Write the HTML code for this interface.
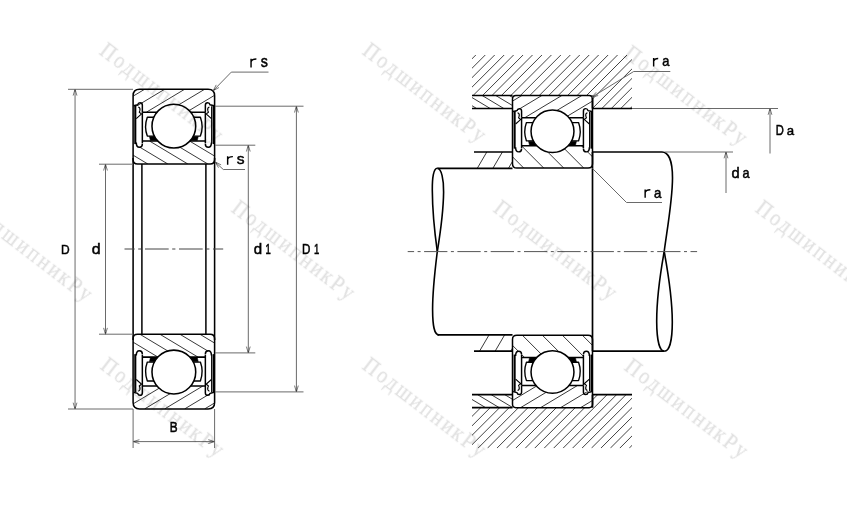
<!DOCTYPE html>
<html><head><meta charset="utf-8"><style>
html,body{margin:0;padding:0;background:#fff;}
svg{display:block;}
</style></head><body>
<svg width="847" height="508" viewBox="0 0 847 508">
<rect width="847" height="508" fill="#fff"/>
<clipPath id="coL1"><path transform="translate(133.1,89.3) scale(0.9939,0.9960)" d="M0,6.5 Q0,0 6.5,0 L75.5,0 Q82,0 82,6.5 L82,17 L73,17 L73,23 L9,23 L9,17 L0,17 Z"/></clipPath>
<clipPath id="ciL1"><path transform="translate(133.1,89.3) scale(0.9939,0.9960)" d="M0,58 L9,58 L9,52 L73,52 L73,58 L82,58 L82,70.5 Q82,75 77.5,75 L4.5,75 Q0,75 0,70.5 Z"/></clipPath>
<g clip-path="url(#coL1)">
<line x1="124.57" y1="89.3" x2="86.39" y2="112.208" stroke="#222" stroke-width="0.9"/>
<line x1="144.57" y1="89.3" x2="106.39" y2="112.208" stroke="#222" stroke-width="0.9"/>
<line x1="164.57" y1="89.3" x2="126.39" y2="112.208" stroke="#222" stroke-width="0.9"/>
<line x1="184.57" y1="89.3" x2="146.39" y2="112.208" stroke="#222" stroke-width="0.9"/>
<line x1="204.57" y1="89.3" x2="166.39" y2="112.208" stroke="#222" stroke-width="0.9"/>
<line x1="224.57" y1="89.3" x2="186.39" y2="112.208" stroke="#222" stroke-width="0.9"/>
<line x1="244.57" y1="89.3" x2="206.39" y2="112.208" stroke="#222" stroke-width="0.9"/>
<line x1="264.57" y1="89.3" x2="226.39" y2="112.208" stroke="#222" stroke-width="0.9"/>
</g>
<g clip-path="url(#ciL1)">
<line x1="89.65" y1="141.09199999999998" x2="127.83" y2="164.0" stroke="#222" stroke-width="0.9"/>
<line x1="109.65" y1="141.09199999999998" x2="147.83" y2="164.0" stroke="#222" stroke-width="0.9"/>
<line x1="129.65" y1="141.09199999999998" x2="167.83" y2="164.0" stroke="#222" stroke-width="0.9"/>
<line x1="149.65" y1="141.09199999999998" x2="187.83" y2="164.0" stroke="#222" stroke-width="0.9"/>
<line x1="169.65" y1="141.09199999999998" x2="207.83" y2="164.0" stroke="#222" stroke-width="0.9"/>
<line x1="189.65" y1="141.09199999999998" x2="227.83" y2="164.0" stroke="#222" stroke-width="0.9"/>
<line x1="209.65" y1="141.09199999999998" x2="247.83" y2="164.0" stroke="#222" stroke-width="0.9"/>
<line x1="229.65" y1="141.09199999999998" x2="267.83" y2="164.0" stroke="#222" stroke-width="0.9"/>
</g>
<g transform="translate(133.1,89.3) scale(0.9939,0.9960)" fill="none" stroke="#000" stroke-width="1.55" stroke-linejoin="round">
<path d="M0,6.5 Q0,0 6.5,0 L75.5,0 Q82,0 82,6.5 L82,70.5 Q82,75 77.5,75 L4.5,75 Q0,75 0,70.5 Z"/>
<path d="M9.5,23 L24.03,23 M57.97,23 L72.5,23"/>
<path d="M9.5,52 L24.91,52 M57.09,52 L72.5,52"/>
<g>
<path d="M41,28 L20.93,28 L14.3,28 Q10.8,37.5 14.3,47 L21.40,47" stroke-width="1.4"/>
<path d="M16.40,47.3 L21.40,47.3 L24.45,51.5 L17.40,51.5 Z" fill="#000" stroke-width="0.5"/>
</g>
<g transform="translate(82,0) scale(-1,1)">
<path d="M41,28 L20.93,28 L14.3,28 Q10.8,37.5 14.3,47 L21.40,47" stroke-width="1.4"/>
<path d="M16.40,47.3 L21.40,47.3 L24.45,51.5 L17.40,51.5 Z" fill="#000" stroke-width="0.5"/>
</g>
<circle cx="41" cy="37" r="22" fill="#fff"/>
<g>
<path d="M2.2,16.5 L2.2,55" stroke-width="2.1"/>
<path d="M9.3,23 L9.3,16 Q9.3,13.6 7,13.6 Q5,13.6 4.6,15.6 L0.5,16.6" stroke-width="1.5"/>
<path d="M9.3,23 L9.3,54.5 M3.2,53.5 Q3.2,58.3 6.3,58.3 Q9.3,58.3 9.3,55" stroke-width="1.5"/>
<path d="M5.2,17.8 Q7.6,18.5 6.8,21.5 L6.2,23 L8,24.5 M8.8,24.5 L3.2,29.5" stroke-width="1.1"/>
</g>
<g transform="translate(82,0) scale(-1,1)">
<path d="M1.0,16.5 L1.0,55" stroke-width="2.1"/>
<path d="M3,17 L3,54" stroke-width="1.1"/>
<path d="M9.3,23 L9.3,16 Q9.3,13.6 7,13.6 Q5,13.6 4.6,15.6 L0.5,16.6" stroke-width="1.5"/>
<path d="M9.3,23 L9.3,54.5 M3.2,53.5 Q3.2,58.3 6.3,58.3 Q9.3,58.3 9.3,55" stroke-width="1.5"/>
<path d="M5.2,17.8 Q7.6,18.5 6.8,21.5 L6.2,23 L8,24.5 M8.8,24.5 L3.2,29.5" stroke-width="1.1"/>
</g>
</g>
<clipPath id="coL2"><path transform="translate(133.1,408.9) scale(0.9939,-0.9960)" d="M0,6.5 Q0,0 6.5,0 L75.5,0 Q82,0 82,6.5 L82,17 L73,17 L73,23 L9,23 L9,17 L0,17 Z"/></clipPath>
<clipPath id="ciL2"><path transform="translate(133.1,408.9) scale(0.9939,-0.9960)" d="M0,58 L9,58 L9,52 L73,52 L73,58 L82,58 L82,70.5 Q82,75 77.5,75 L4.5,75 Q0,75 0,70.5 Z"/></clipPath>
<g clip-path="url(#coL2)">
<line x1="122.88" y1="385.99199999999996" x2="84.70" y2="408.9" stroke="#222" stroke-width="0.9"/>
<line x1="142.88" y1="385.99199999999996" x2="104.70" y2="408.9" stroke="#222" stroke-width="0.9"/>
<line x1="162.88" y1="385.99199999999996" x2="124.70" y2="408.9" stroke="#222" stroke-width="0.9"/>
<line x1="182.88" y1="385.99199999999996" x2="144.70" y2="408.9" stroke="#222" stroke-width="0.9"/>
<line x1="202.88" y1="385.99199999999996" x2="164.70" y2="408.9" stroke="#222" stroke-width="0.9"/>
<line x1="222.88" y1="385.99199999999996" x2="184.70" y2="408.9" stroke="#222" stroke-width="0.9"/>
<line x1="242.88" y1="385.99199999999996" x2="204.70" y2="408.9" stroke="#222" stroke-width="0.9"/>
<line x1="262.88" y1="385.99199999999996" x2="224.70" y2="408.9" stroke="#222" stroke-width="0.9"/>
</g>
<g clip-path="url(#ciL2)">
<line x1="79.80" y1="334.2" x2="117.98" y2="357.10799999999995" stroke="#222" stroke-width="0.9"/>
<line x1="99.80" y1="334.2" x2="137.98" y2="357.10799999999995" stroke="#222" stroke-width="0.9"/>
<line x1="119.80" y1="334.2" x2="157.98" y2="357.10799999999995" stroke="#222" stroke-width="0.9"/>
<line x1="139.80" y1="334.2" x2="177.98" y2="357.10799999999995" stroke="#222" stroke-width="0.9"/>
<line x1="159.80" y1="334.2" x2="197.98" y2="357.10799999999995" stroke="#222" stroke-width="0.9"/>
<line x1="179.80" y1="334.2" x2="217.98" y2="357.10799999999995" stroke="#222" stroke-width="0.9"/>
<line x1="199.80" y1="334.2" x2="237.98" y2="357.10799999999995" stroke="#222" stroke-width="0.9"/>
<line x1="219.80" y1="334.2" x2="257.98" y2="357.10799999999995" stroke="#222" stroke-width="0.9"/>
</g>
<g transform="translate(133.1,408.9) scale(0.9939,-0.9960)" fill="none" stroke="#000" stroke-width="1.55" stroke-linejoin="round">
<path d="M0,6.5 Q0,0 6.5,0 L75.5,0 Q82,0 82,6.5 L82,70.5 Q82,75 77.5,75 L4.5,75 Q0,75 0,70.5 Z"/>
<path d="M9.5,23 L24.03,23 M57.97,23 L72.5,23"/>
<path d="M9.5,52 L24.91,52 M57.09,52 L72.5,52"/>
<g>
<path d="M41,28 L20.93,28 L14.3,28 Q10.8,37.5 14.3,47 L21.40,47" stroke-width="1.4"/>
<path d="M16.40,47.3 L21.40,47.3 L24.45,51.5 L17.40,51.5 Z" fill="#000" stroke-width="0.5"/>
</g>
<g transform="translate(82,0) scale(-1,1)">
<path d="M41,28 L20.93,28 L14.3,28 Q10.8,37.5 14.3,47 L21.40,47" stroke-width="1.4"/>
<path d="M16.40,47.3 L21.40,47.3 L24.45,51.5 L17.40,51.5 Z" fill="#000" stroke-width="0.5"/>
</g>
<circle cx="41" cy="37" r="22" fill="#fff"/>
<g>
<path d="M2.2,16.5 L2.2,55" stroke-width="2.1"/>
<path d="M9.3,23 L9.3,16 Q9.3,13.6 7,13.6 Q5,13.6 4.6,15.6 L0.5,16.6" stroke-width="1.5"/>
<path d="M9.3,23 L9.3,54.5 M3.2,53.5 Q3.2,58.3 6.3,58.3 Q9.3,58.3 9.3,55" stroke-width="1.5"/>
<path d="M5.2,17.8 Q7.6,18.5 6.8,21.5 L6.2,23 L8,24.5 M8.8,24.5 L3.2,29.5" stroke-width="1.1"/>
</g>
<g transform="translate(82,0) scale(-1,1)">
<path d="M1.0,16.5 L1.0,55" stroke-width="2.1"/>
<path d="M3,17 L3,54" stroke-width="1.1"/>
<path d="M9.3,23 L9.3,16 Q9.3,13.6 7,13.6 Q5,13.6 4.6,15.6 L0.5,16.6" stroke-width="1.5"/>
<path d="M9.3,23 L9.3,54.5 M3.2,53.5 Q3.2,58.3 6.3,58.3 Q9.3,58.3 9.3,55" stroke-width="1.5"/>
<path d="M5.2,17.8 Q7.6,18.5 6.8,21.5 L6.2,23 L8,24.5 M8.8,24.5 L3.2,29.5" stroke-width="1.1"/>
</g>
</g>
<line x1="133.10" y1="158.00" x2="133.10" y2="340.00" stroke="#000" stroke-width="1.55" />
<line x1="214.60" y1="158.00" x2="214.60" y2="340.00" stroke="#000" stroke-width="1.55" />
<line x1="141.90" y1="164.00" x2="141.90" y2="334.20" stroke="#000" stroke-width="1.5" />
<line x1="205.90" y1="164.00" x2="205.90" y2="334.20" stroke="#000" stroke-width="1.5" />
<line x1="124.5" y1="249" x2="223.2" y2="249" stroke="#444" stroke-width="1" stroke-dasharray="23.7,3.5,3.2,3.6" stroke-dashoffset="13.5"/>
<line x1="68.00" y1="89.30" x2="133.00" y2="89.30" stroke="#6a6a6a" stroke-width="1" />
<line x1="68.00" y1="409.00" x2="133.00" y2="409.00" stroke="#6a6a6a" stroke-width="1" />
<line x1="75.05" y1="89.30" x2="75.05" y2="409.00" stroke="#6a6a6a" stroke-width="1" />
<path d="M76.95,95.60 L75.05,89.30 L73.15,95.60" fill="none" stroke="#6a6a6a" stroke-width="0.9" stroke-linejoin="miter"/>
<path d="M75.75,91.50 L75.05,89.30 L74.35,91.50 Z" fill="#333" stroke="none"/>
<path d="M73.15,402.70 L75.05,409.00 L76.95,402.70" fill="none" stroke="#6a6a6a" stroke-width="0.9" stroke-linejoin="miter"/>
<path d="M74.35,406.80 L75.05,409.00 L75.75,406.80 Z" fill="#333" stroke="none"/>
<line x1="99.00" y1="164.20" x2="133.00" y2="164.20" stroke="#6a6a6a" stroke-width="1" />
<line x1="99.00" y1="334.20" x2="133.00" y2="334.20" stroke="#6a6a6a" stroke-width="1" />
<line x1="105.50" y1="164.20" x2="105.50" y2="334.20" stroke="#6a6a6a" stroke-width="1" />
<path d="M107.40,170.50 L105.50,164.20 L103.60,170.50" fill="none" stroke="#6a6a6a" stroke-width="0.9" stroke-linejoin="miter"/>
<path d="M106.20,166.40 L105.50,164.20 L104.80,166.40 Z" fill="#333" stroke="none"/>
<path d="M103.60,327.90 L105.50,334.20 L107.40,327.90" fill="none" stroke="#6a6a6a" stroke-width="0.9" stroke-linejoin="miter"/>
<path d="M104.80,332.00 L105.50,334.20 L106.20,332.00 Z" fill="#333" stroke="none"/>
<line x1="215.00" y1="145.20" x2="255.30" y2="145.20" stroke="#6a6a6a" stroke-width="1" />
<line x1="215.00" y1="352.90" x2="255.30" y2="352.90" stroke="#6a6a6a" stroke-width="1" />
<line x1="248.30" y1="145.20" x2="248.30" y2="352.90" stroke="#6a6a6a" stroke-width="1" />
<path d="M250.20,151.50 L248.30,145.20 L246.40,151.50" fill="none" stroke="#6a6a6a" stroke-width="0.9" stroke-linejoin="miter"/>
<path d="M249.00,147.40 L248.30,145.20 L247.60,147.40 Z" fill="#333" stroke="none"/>
<path d="M246.40,346.60 L248.30,352.90 L250.20,346.60" fill="none" stroke="#6a6a6a" stroke-width="0.9" stroke-linejoin="miter"/>
<path d="M247.60,350.70 L248.30,352.90 L249.00,350.70 Z" fill="#333" stroke="none"/>
<line x1="215.00" y1="106.20" x2="303.50" y2="106.20" stroke="#6a6a6a" stroke-width="1" />
<line x1="215.00" y1="391.90" x2="303.50" y2="391.90" stroke="#6a6a6a" stroke-width="1" />
<line x1="296.40" y1="106.20" x2="296.40" y2="391.90" stroke="#6a6a6a" stroke-width="1" />
<path d="M298.30,112.50 L296.40,106.20 L294.50,112.50" fill="none" stroke="#6a6a6a" stroke-width="0.9" stroke-linejoin="miter"/>
<path d="M297.10,108.40 L296.40,106.20 L295.70,108.40 Z" fill="#333" stroke="none"/>
<path d="M294.50,385.60 L296.40,391.90 L298.30,385.60" fill="none" stroke="#6a6a6a" stroke-width="0.9" stroke-linejoin="miter"/>
<path d="M295.70,389.70 L296.40,391.90 L297.10,389.70 Z" fill="#333" stroke="none"/>
<line x1="133.10" y1="409.00" x2="133.10" y2="448.00" stroke="#6a6a6a" stroke-width="1" />
<line x1="214.60" y1="409.00" x2="214.60" y2="448.00" stroke="#6a6a6a" stroke-width="1" />
<line x1="133.10" y1="441.60" x2="214.60" y2="441.60" stroke="#6a6a6a" stroke-width="1" />
<path d="M139.40,439.70 L133.10,441.60 L139.40,443.50" fill="none" stroke="#6a6a6a" stroke-width="0.9" stroke-linejoin="miter"/>
<path d="M135.30,440.90 L133.10,441.60 L135.30,442.30 Z" fill="#333" stroke="none"/>
<path d="M208.30,443.50 L214.60,441.60 L208.30,439.70" fill="none" stroke="#6a6a6a" stroke-width="0.9" stroke-linejoin="miter"/>
<path d="M212.40,442.30 L214.60,441.60 L212.40,440.90 Z" fill="#333" stroke="none"/>
<line x1="213.20" y1="90.70" x2="231.30" y2="72.10" stroke="#6a6a6a" stroke-width="1" />
<line x1="231.30" y1="72.10" x2="268.50" y2="72.10" stroke="#6a6a6a" stroke-width="1" />
<path d="M216.23,84.86 L213.20,90.70 L218.96,87.51" fill="none" stroke="#6a6a6a" stroke-width="0.9" stroke-linejoin="miter"/>
<path d="M214.23,88.64 L213.20,90.70 L215.24,89.61 Z" fill="#333" stroke="none"/>
<line x1="215.20" y1="162.00" x2="223.30" y2="169.50" stroke="#6a6a6a" stroke-width="1" />
<line x1="223.30" y1="169.50" x2="245.00" y2="169.50" stroke="#6a6a6a" stroke-width="1" />
<path d="M221.11,164.89 L215.20,162.00 L218.53,167.67" fill="none" stroke="#6a6a6a" stroke-width="0.9" stroke-linejoin="miter"/>
<path d="M217.29,162.98 L215.20,162.00 L216.34,164.01 Z" fill="#333" stroke="none"/>
<clipPath id="hu"><path d="M472,55 L632,55 L632,108.5 L592.5,108.5 L592.5,95.5 L472,95.5 Z"/></clipPath>
<clipPath id="hl"><path d="M472,448.2 L632,448.2 L632,394.7 L592.5,394.7 L592.5,407.7 L472,407.7 Z"/></clipPath>
<g clip-path="url(#hu)">
<line x1="466.35" y1="55" x2="412.85" y2="108.5" stroke="#222" stroke-width="0.85"/>
<line x1="475.80" y1="55" x2="422.30" y2="108.5" stroke="#222" stroke-width="0.85"/>
<line x1="485.25" y1="55" x2="431.75" y2="108.5" stroke="#222" stroke-width="0.85"/>
<line x1="494.70" y1="55" x2="441.20" y2="108.5" stroke="#222" stroke-width="0.85"/>
<line x1="504.15" y1="55" x2="450.65" y2="108.5" stroke="#222" stroke-width="0.85"/>
<line x1="513.60" y1="55" x2="460.10" y2="108.5" stroke="#222" stroke-width="0.85"/>
<line x1="523.05" y1="55" x2="469.55" y2="108.5" stroke="#222" stroke-width="0.85"/>
<line x1="532.50" y1="55" x2="479.00" y2="108.5" stroke="#222" stroke-width="0.85"/>
<line x1="541.95" y1="55" x2="488.45" y2="108.5" stroke="#222" stroke-width="0.85"/>
<line x1="551.40" y1="55" x2="497.90" y2="108.5" stroke="#222" stroke-width="0.85"/>
<line x1="560.85" y1="55" x2="507.35" y2="108.5" stroke="#222" stroke-width="0.85"/>
<line x1="570.30" y1="55" x2="516.80" y2="108.5" stroke="#222" stroke-width="0.85"/>
<line x1="579.75" y1="55" x2="526.25" y2="108.5" stroke="#222" stroke-width="0.85"/>
<line x1="589.20" y1="55" x2="535.70" y2="108.5" stroke="#222" stroke-width="0.85"/>
<line x1="598.65" y1="55" x2="545.15" y2="108.5" stroke="#222" stroke-width="0.85"/>
<line x1="608.10" y1="55" x2="554.60" y2="108.5" stroke="#222" stroke-width="0.85"/>
<line x1="617.55" y1="55" x2="564.05" y2="108.5" stroke="#222" stroke-width="0.85"/>
<line x1="627.00" y1="55" x2="573.50" y2="108.5" stroke="#222" stroke-width="0.85"/>
<line x1="636.45" y1="55" x2="582.95" y2="108.5" stroke="#222" stroke-width="0.85"/>
<line x1="645.90" y1="55" x2="592.40" y2="108.5" stroke="#222" stroke-width="0.85"/>
<line x1="655.35" y1="55" x2="601.85" y2="108.5" stroke="#222" stroke-width="0.85"/>
<line x1="664.80" y1="55" x2="611.30" y2="108.5" stroke="#222" stroke-width="0.85"/>
<line x1="674.25" y1="55" x2="620.75" y2="108.5" stroke="#222" stroke-width="0.85"/>
<line x1="683.70" y1="55" x2="630.20" y2="108.5" stroke="#222" stroke-width="0.85"/>
<line x1="693.15" y1="55" x2="639.65" y2="108.5" stroke="#222" stroke-width="0.85"/>
</g>
<g clip-path="url(#hl)">
<line x1="465.35" y1="394.7" x2="411.85" y2="448.2" stroke="#222" stroke-width="0.85"/>
<line x1="474.80" y1="394.7" x2="421.30" y2="448.2" stroke="#222" stroke-width="0.85"/>
<line x1="484.25" y1="394.7" x2="430.75" y2="448.2" stroke="#222" stroke-width="0.85"/>
<line x1="493.70" y1="394.7" x2="440.20" y2="448.2" stroke="#222" stroke-width="0.85"/>
<line x1="503.15" y1="394.7" x2="449.65" y2="448.2" stroke="#222" stroke-width="0.85"/>
<line x1="512.60" y1="394.7" x2="459.10" y2="448.2" stroke="#222" stroke-width="0.85"/>
<line x1="522.05" y1="394.7" x2="468.55" y2="448.2" stroke="#222" stroke-width="0.85"/>
<line x1="531.50" y1="394.7" x2="478.00" y2="448.2" stroke="#222" stroke-width="0.85"/>
<line x1="540.95" y1="394.7" x2="487.45" y2="448.2" stroke="#222" stroke-width="0.85"/>
<line x1="550.40" y1="394.7" x2="496.90" y2="448.2" stroke="#222" stroke-width="0.85"/>
<line x1="559.85" y1="394.7" x2="506.35" y2="448.2" stroke="#222" stroke-width="0.85"/>
<line x1="569.30" y1="394.7" x2="515.80" y2="448.2" stroke="#222" stroke-width="0.85"/>
<line x1="578.75" y1="394.7" x2="525.25" y2="448.2" stroke="#222" stroke-width="0.85"/>
<line x1="588.20" y1="394.7" x2="534.70" y2="448.2" stroke="#222" stroke-width="0.85"/>
<line x1="597.65" y1="394.7" x2="544.15" y2="448.2" stroke="#222" stroke-width="0.85"/>
<line x1="607.10" y1="394.7" x2="553.60" y2="448.2" stroke="#222" stroke-width="0.85"/>
<line x1="616.55" y1="394.7" x2="563.05" y2="448.2" stroke="#222" stroke-width="0.85"/>
<line x1="626.00" y1="394.7" x2="572.50" y2="448.2" stroke="#222" stroke-width="0.85"/>
<line x1="635.45" y1="394.7" x2="581.95" y2="448.2" stroke="#222" stroke-width="0.85"/>
<line x1="644.90" y1="394.7" x2="591.40" y2="448.2" stroke="#222" stroke-width="0.85"/>
<line x1="654.35" y1="394.7" x2="600.85" y2="448.2" stroke="#222" stroke-width="0.85"/>
<line x1="663.80" y1="394.7" x2="610.30" y2="448.2" stroke="#222" stroke-width="0.85"/>
<line x1="673.25" y1="394.7" x2="619.75" y2="448.2" stroke="#222" stroke-width="0.85"/>
<line x1="682.70" y1="394.7" x2="629.20" y2="448.2" stroke="#222" stroke-width="0.85"/>
<line x1="692.15" y1="394.7" x2="638.65" y2="448.2" stroke="#222" stroke-width="0.85"/>
</g>
<clipPath id="su"><rect x="472" y="95.5" width="40.5" height="13"/></clipPath>
<clipPath id="sl"><rect x="472" y="394.7" width="40.5" height="13"/></clipPath>
<g clip-path="url(#su)">
<line x1="441.37" y1="95.5" x2="463.03" y2="108.5" stroke="#222" stroke-width="0.9"/>
<line x1="454.97" y1="95.5" x2="476.63" y2="108.5" stroke="#222" stroke-width="0.9"/>
<line x1="468.57" y1="95.5" x2="490.23" y2="108.5" stroke="#222" stroke-width="0.9"/>
<line x1="482.17" y1="95.5" x2="503.83" y2="108.5" stroke="#222" stroke-width="0.9"/>
<line x1="495.77" y1="95.5" x2="517.43" y2="108.5" stroke="#222" stroke-width="0.9"/>
<line x1="509.37" y1="95.5" x2="531.03" y2="108.5" stroke="#222" stroke-width="0.9"/>
<line x1="522.97" y1="95.5" x2="544.63" y2="108.5" stroke="#222" stroke-width="0.9"/>
</g>
<g clip-path="url(#sl)">
<line x1="436.83" y1="394.7" x2="458.50" y2="407.7" stroke="#222" stroke-width="0.9"/>
<line x1="450.43" y1="394.7" x2="472.10" y2="407.7" stroke="#222" stroke-width="0.9"/>
<line x1="464.03" y1="394.7" x2="485.70" y2="407.7" stroke="#222" stroke-width="0.9"/>
<line x1="477.63" y1="394.7" x2="499.30" y2="407.7" stroke="#222" stroke-width="0.9"/>
<line x1="491.23" y1="394.7" x2="512.90" y2="407.7" stroke="#222" stroke-width="0.9"/>
<line x1="504.83" y1="394.7" x2="526.50" y2="407.7" stroke="#222" stroke-width="0.9"/>
<line x1="518.43" y1="394.7" x2="540.10" y2="407.7" stroke="#222" stroke-width="0.9"/>
</g>
<clipPath id="bu"><rect x="474" y="152" width="38.5" height="16.3"/></clipPath>
<clipPath id="bl"><rect x="474" y="334.9" width="38.5" height="16.3"/></clipPath>
<g clip-path="url(#bu)">
<line x1="471.21" y1="152" x2="461.68" y2="168.3" stroke="#222" stroke-width="0.9"/>
<line x1="486.81" y1="152" x2="477.28" y2="168.3" stroke="#222" stroke-width="0.9"/>
<line x1="502.41" y1="152" x2="492.88" y2="168.3" stroke="#222" stroke-width="0.9"/>
<line x1="518.01" y1="152" x2="508.48" y2="168.3" stroke="#222" stroke-width="0.9"/>
<line x1="533.61" y1="152" x2="524.08" y2="168.3" stroke="#222" stroke-width="0.9"/>
</g>
<g clip-path="url(#bl)">
<line x1="473.45" y1="334.9" x2="463.92" y2="351.2" stroke="#222" stroke-width="0.9"/>
<line x1="489.05" y1="334.9" x2="479.52" y2="351.2" stroke="#222" stroke-width="0.9"/>
<line x1="504.65" y1="334.9" x2="495.12" y2="351.2" stroke="#222" stroke-width="0.9"/>
<line x1="520.25" y1="334.9" x2="510.72" y2="351.2" stroke="#222" stroke-width="0.9"/>
<line x1="535.85" y1="334.9" x2="526.32" y2="351.2" stroke="#222" stroke-width="0.9"/>
</g>
<clipPath id="coR1"><path transform="translate(512.5,95.5) scale(0.9756,0.9667)" d="M0,3.5 Q0,0 3.5,0 L78.5,0 Q82,0 82,3.5 L82,17 L73,17 L73,23 L9,23 L9,17 L0,17 Z"/></clipPath>
<clipPath id="ciR1"><path transform="translate(512.5,95.5) scale(0.9756,0.9667)" d="M0,58 L9,58 L9,52 L73,52 L73,58 L82,58 L82,70.5 Q82,75 77.5,75 L4.5,75 Q0,75 0,70.5 Z"/></clipPath>
<g clip-path="url(#coR1)">
<line x1="501.83" y1="95.5" x2="464.78" y2="117.73333333333333" stroke="#222" stroke-width="0.9"/>
<line x1="521.83" y1="95.5" x2="484.78" y2="117.73333333333333" stroke="#222" stroke-width="0.9"/>
<line x1="541.83" y1="95.5" x2="504.78" y2="117.73333333333333" stroke="#222" stroke-width="0.9"/>
<line x1="561.83" y1="95.5" x2="524.78" y2="117.73333333333333" stroke="#222" stroke-width="0.9"/>
<line x1="581.83" y1="95.5" x2="544.78" y2="117.73333333333333" stroke="#222" stroke-width="0.9"/>
<line x1="601.83" y1="95.5" x2="564.78" y2="117.73333333333333" stroke="#222" stroke-width="0.9"/>
<line x1="621.83" y1="95.5" x2="584.78" y2="117.73333333333333" stroke="#222" stroke-width="0.9"/>
<line x1="641.83" y1="95.5" x2="604.78" y2="117.73333333333333" stroke="#222" stroke-width="0.9"/>
</g>
<g clip-path="url(#ciR1)">
<line x1="481.47" y1="145.76666666666665" x2="503.70" y2="168.0" stroke="#222" stroke-width="0.9"/>
<line x1="501.47" y1="145.76666666666665" x2="523.70" y2="168.0" stroke="#222" stroke-width="0.9"/>
<line x1="521.47" y1="145.76666666666665" x2="543.70" y2="168.0" stroke="#222" stroke-width="0.9"/>
<line x1="541.47" y1="145.76666666666665" x2="563.70" y2="168.0" stroke="#222" stroke-width="0.9"/>
<line x1="561.47" y1="145.76666666666665" x2="583.70" y2="168.0" stroke="#222" stroke-width="0.9"/>
<line x1="581.47" y1="145.76666666666665" x2="603.70" y2="168.0" stroke="#222" stroke-width="0.9"/>
<line x1="601.47" y1="145.76666666666665" x2="623.70" y2="168.0" stroke="#222" stroke-width="0.9"/>
</g>
<g transform="translate(512.5,95.5) scale(0.9756,0.9667)" fill="none" stroke="#000" stroke-width="1.55" stroke-linejoin="round">
<path d="M0,3.5 Q0,0 3.5,0 L78.5,0 Q82,0 82,3.5 L82,70.5 Q82,75 77.5,75 L4.5,75 Q0,75 0,70.5 Z"/>
<path d="M9.5,23 L24.03,23 M57.97,23 L72.5,23"/>
<path d="M9.5,52 L24.91,52 M57.09,52 L72.5,52"/>
<g>
<path d="M41,28 L20.93,28 L14.3,28 Q10.8,37.5 14.3,47 L21.40,47" stroke-width="1.4"/>
<path d="M16.40,47.3 L21.40,47.3 L24.45,51.5 L17.40,51.5 Z" fill="#000" stroke-width="0.5"/>
</g>
<g transform="translate(82,0) scale(-1,1)">
<path d="M41,28 L20.93,28 L14.3,28 Q10.8,37.5 14.3,47 L21.40,47" stroke-width="1.4"/>
<path d="M16.40,47.3 L21.40,47.3 L24.45,51.5 L17.40,51.5 Z" fill="#000" stroke-width="0.5"/>
</g>
<circle cx="41" cy="37" r="22" fill="#fff"/>
<g>
<path d="M2.2,16.5 L2.2,55" stroke-width="2.1"/>
<path d="M9.3,23 L9.3,16 Q9.3,13.6 7,13.6 Q5,13.6 4.6,15.6 L0.5,16.6" stroke-width="1.5"/>
<path d="M9.3,23 L9.3,54.5 M3.2,53.5 Q3.2,58.3 6.3,58.3 Q9.3,58.3 9.3,55" stroke-width="1.5"/>
<path d="M5.2,17.8 Q7.6,18.5 6.8,21.5 L6.2,23 L8,24.5 M8.8,24.5 L3.2,29.5" stroke-width="1.1"/>
</g>
<g transform="translate(82,0) scale(-1,1)">
<path d="M1.0,16.5 L1.0,55" stroke-width="2.1"/>
<path d="M3,17 L3,54" stroke-width="1.1"/>
<path d="M9.3,23 L9.3,16 Q9.3,13.6 7,13.6 Q5,13.6 4.6,15.6 L0.5,16.6" stroke-width="1.5"/>
<path d="M9.3,23 L9.3,54.5 M3.2,53.5 Q3.2,58.3 6.3,58.3 Q9.3,58.3 9.3,55" stroke-width="1.5"/>
<path d="M5.2,17.8 Q7.6,18.5 6.8,21.5 L6.2,23 L8,24.5 M8.8,24.5 L3.2,29.5" stroke-width="1.1"/>
</g>
</g>
<clipPath id="coR2"><path transform="translate(512.5,407.7) scale(0.9756,-0.9667)" d="M0,3.5 Q0,0 3.5,0 L78.5,0 Q82,0 82,3.5 L82,17 L73,17 L73,23 L9,23 L9,17 L0,17 Z"/></clipPath>
<clipPath id="ciR2"><path transform="translate(512.5,407.7) scale(0.9756,-0.9667)" d="M0,58 L9,58 L9,52 L73,52 L73,58 L82,58 L82,70.5 Q82,75 77.5,75 L4.5,75 Q0,75 0,70.5 Z"/></clipPath>
<g clip-path="url(#coR2)">
<line x1="497.56" y1="385.46666666666664" x2="460.50" y2="407.7" stroke="#222" stroke-width="0.9"/>
<line x1="517.56" y1="385.46666666666664" x2="480.50" y2="407.7" stroke="#222" stroke-width="0.9"/>
<line x1="537.56" y1="385.46666666666664" x2="500.50" y2="407.7" stroke="#222" stroke-width="0.9"/>
<line x1="557.56" y1="385.46666666666664" x2="520.50" y2="407.7" stroke="#222" stroke-width="0.9"/>
<line x1="577.56" y1="385.46666666666664" x2="540.50" y2="407.7" stroke="#222" stroke-width="0.9"/>
<line x1="597.56" y1="385.46666666666664" x2="560.50" y2="407.7" stroke="#222" stroke-width="0.9"/>
<line x1="617.56" y1="385.46666666666664" x2="580.50" y2="407.7" stroke="#222" stroke-width="0.9"/>
<line x1="637.56" y1="385.46666666666664" x2="600.50" y2="407.7" stroke="#222" stroke-width="0.9"/>
</g>
<g clip-path="url(#ciR2)">
<line x1="482.30" y1="335.2" x2="504.53" y2="357.43333333333334" stroke="#222" stroke-width="0.9"/>
<line x1="502.30" y1="335.2" x2="524.53" y2="357.43333333333334" stroke="#222" stroke-width="0.9"/>
<line x1="522.30" y1="335.2" x2="544.53" y2="357.43333333333334" stroke="#222" stroke-width="0.9"/>
<line x1="542.30" y1="335.2" x2="564.53" y2="357.43333333333334" stroke="#222" stroke-width="0.9"/>
<line x1="562.30" y1="335.2" x2="584.53" y2="357.43333333333334" stroke="#222" stroke-width="0.9"/>
<line x1="582.30" y1="335.2" x2="604.53" y2="357.43333333333334" stroke="#222" stroke-width="0.9"/>
<line x1="602.30" y1="335.2" x2="624.53" y2="357.43333333333334" stroke="#222" stroke-width="0.9"/>
</g>
<g transform="translate(512.5,407.7) scale(0.9756,-0.9667)" fill="none" stroke="#000" stroke-width="1.55" stroke-linejoin="round">
<path d="M0,3.5 Q0,0 3.5,0 L78.5,0 Q82,0 82,3.5 L82,70.5 Q82,75 77.5,75 L4.5,75 Q0,75 0,70.5 Z"/>
<path d="M9.5,23 L24.03,23 M57.97,23 L72.5,23"/>
<path d="M9.5,52 L24.91,52 M57.09,52 L72.5,52"/>
<g>
<path d="M41,28 L20.93,28 L14.3,28 Q10.8,37.5 14.3,47 L21.40,47" stroke-width="1.4"/>
<path d="M16.40,47.3 L21.40,47.3 L24.45,51.5 L17.40,51.5 Z" fill="#000" stroke-width="0.5"/>
</g>
<g transform="translate(82,0) scale(-1,1)">
<path d="M41,28 L20.93,28 L14.3,28 Q10.8,37.5 14.3,47 L21.40,47" stroke-width="1.4"/>
<path d="M16.40,47.3 L21.40,47.3 L24.45,51.5 L17.40,51.5 Z" fill="#000" stroke-width="0.5"/>
</g>
<circle cx="41" cy="37" r="22" fill="#fff"/>
<g>
<path d="M2.2,16.5 L2.2,55" stroke-width="2.1"/>
<path d="M9.3,23 L9.3,16 Q9.3,13.6 7,13.6 Q5,13.6 4.6,15.6 L0.5,16.6" stroke-width="1.5"/>
<path d="M9.3,23 L9.3,54.5 M3.2,53.5 Q3.2,58.3 6.3,58.3 Q9.3,58.3 9.3,55" stroke-width="1.5"/>
<path d="M5.2,17.8 Q7.6,18.5 6.8,21.5 L6.2,23 L8,24.5 M8.8,24.5 L3.2,29.5" stroke-width="1.1"/>
</g>
<g transform="translate(82,0) scale(-1,1)">
<path d="M1.0,16.5 L1.0,55" stroke-width="2.1"/>
<path d="M3,17 L3,54" stroke-width="1.1"/>
<path d="M9.3,23 L9.3,16 Q9.3,13.6 7,13.6 Q5,13.6 4.6,15.6 L0.5,16.6" stroke-width="1.5"/>
<path d="M9.3,23 L9.3,54.5 M3.2,53.5 Q3.2,58.3 6.3,58.3 Q9.3,58.3 9.3,55" stroke-width="1.5"/>
<path d="M5.2,17.8 Q7.6,18.5 6.8,21.5 L6.2,23 L8,24.5 M8.8,24.5 L3.2,29.5" stroke-width="1.1"/>
</g>
</g>
<line x1="472.00" y1="95.50" x2="512.50" y2="95.50" stroke="#000" stroke-width="1.7" />
<line x1="472.00" y1="407.70" x2="512.50" y2="407.70" stroke="#000" stroke-width="1.7" />
<line x1="472.00" y1="108.50" x2="512.50" y2="108.50" stroke="#000" stroke-width="1.7" />
<line x1="472.00" y1="394.70" x2="512.50" y2="394.70" stroke="#000" stroke-width="1.7" />
<line x1="592.50" y1="108.50" x2="632.00" y2="108.50" stroke="#000" stroke-width="1.7" />
<line x1="592.50" y1="394.70" x2="632.00" y2="394.70" stroke="#000" stroke-width="1.7" />
<line x1="592.50" y1="95.50" x2="592.50" y2="108.50" stroke="#000" stroke-width="1.7" />
<line x1="592.50" y1="407.70" x2="592.50" y2="394.70" stroke="#000" stroke-width="1.7" />
<line x1="474.00" y1="152.00" x2="512.50" y2="152.00" stroke="#000" stroke-width="1.7" />
<line x1="474.00" y1="351.20" x2="512.50" y2="351.20" stroke="#000" stroke-width="1.7" />
<line x1="437.50" y1="168.30" x2="512.50" y2="168.30" stroke="#000" stroke-width="1.7" />
<line x1="437.50" y1="334.90" x2="512.50" y2="334.90" stroke="#000" stroke-width="1.7" />
<line x1="592.50" y1="152.00" x2="592.50" y2="351.20" stroke="#000" stroke-width="1.7" />
<line x1="592.50" y1="152.00" x2="662.00" y2="152.00" stroke="#000" stroke-width="1.7" />
<line x1="592.50" y1="351.20" x2="664.40" y2="351.20" stroke="#000" stroke-width="1.7" />
<g fill="none" stroke="#000" stroke-width="1.6">
<path d="M437.3,168.3 C433.5,168.3 432.2,178 432.3,190 C432.4,210 435,235 437.3,251.5"/>
<path d="M437.3,168.3 C441.5,168.3 443.8,180 443.6,192 C443.4,212 440,235 437.3,251.5"/>
<path d="M437.3,251.5 C435,270 432.5,290 432.6,310 C432.7,325 434,334.9 439,334.9"/>
<path d="M662,152 C668,152 672.5,160 672.5,178 C672.5,200 667,230 664.2,251.5"/>
<path d="M664.2,251.5 C660,275 656.6,300 656.7,322 C656.8,340 659.5,351.2 664.4,351.2"/>
<path d="M664.2,251.5 C668.5,275 672.3,300 672.3,322 C672.3,340 669.5,351.2 664.4,351.2"/>
</g>
<line x1="407.7" y1="251.6" x2="697.1" y2="251.6" stroke="#555" stroke-width="1" stroke-dasharray="23.3,3.5,3,3.5" stroke-dashoffset="16.9"/>
<line x1="632.00" y1="108.50" x2="778.00" y2="108.50" stroke="#6a6a6a" stroke-width="1" />
<line x1="770.00" y1="108.50" x2="770.00" y2="153.50" stroke="#6a6a6a" stroke-width="1" />
<path d="M771.90,114.80 L770.00,108.50 L768.10,114.80" fill="none" stroke="#6a6a6a" stroke-width="0.9" stroke-linejoin="miter"/>
<path d="M770.70,110.70 L770.00,108.50 L769.30,110.70 Z" fill="#333" stroke="none"/>
<line x1="665.00" y1="152.00" x2="733.00" y2="152.00" stroke="#6a6a6a" stroke-width="1" />
<line x1="726.00" y1="152.00" x2="726.00" y2="193.00" stroke="#6a6a6a" stroke-width="1" />
<path d="M727.90,158.30 L726.00,152.00 L724.10,158.30" fill="none" stroke="#6a6a6a" stroke-width="0.9" stroke-linejoin="miter"/>
<path d="M726.70,154.20 L726.00,152.00 L725.30,154.20 Z" fill="#333" stroke="none"/>
<line x1="591.80" y1="97.20" x2="633.70" y2="71.50" stroke="#6a6a6a" stroke-width="1" />
<line x1="633.70" y1="71.50" x2="670.30" y2="71.50" stroke="#6a6a6a" stroke-width="1" />
<path d="M596.18,92.29 L591.80,97.20 L598.16,95.53" fill="none" stroke="#6a6a6a" stroke-width="0.9" stroke-linejoin="miter"/>
<path d="M593.31,95.45 L591.80,97.20 L594.04,96.65 Z" fill="#333" stroke="none"/>
<line x1="592.50" y1="168.50" x2="626.50" y2="202.50" stroke="#6a6a6a" stroke-width="1" />
<line x1="626.50" y1="202.50" x2="662.00" y2="202.50" stroke="#6a6a6a" stroke-width="1" />
<g opacity="0.125">
<text x="0" y="0" transform="translate(98.5,53.0) rotate(37.5) scale(0.087,0.1)" font-family="Liberation Serif" font-size="230" letter-spacing="28.5" fill="#000" stroke="#000" stroke-width="2.5">ПодшипникРу</text>
<text x="0" y="0" transform="translate(361.5,53.0) rotate(37.5) scale(0.087,0.1)" font-family="Liberation Serif" font-size="230" letter-spacing="28.5" fill="#000" stroke="#000" stroke-width="2.5">ПодшипникРу</text>
<text x="0" y="0" transform="translate(622.9,55.8) rotate(37.5) scale(0.087,0.1)" font-family="Liberation Serif" font-size="230" letter-spacing="28.5" fill="#000" stroke="#000" stroke-width="2.5">ПодшипникРу</text>
<text x="0" y="0" transform="translate(-32.0,212.0) rotate(37.5) scale(0.087,0.1)" font-family="Liberation Serif" font-size="230" letter-spacing="28.5" fill="#000" stroke="#000" stroke-width="2.5">ПодшипникРу</text>
<text x="0" y="0" transform="translate(230.5,210.5) rotate(37.5) scale(0.087,0.1)" font-family="Liberation Serif" font-size="230" letter-spacing="28.5" fill="#000" stroke="#000" stroke-width="2.5">ПодшипникРу</text>
<text x="0" y="0" transform="translate(492.5,210.5) rotate(37.5) scale(0.087,0.1)" font-family="Liberation Serif" font-size="230" letter-spacing="28.5" fill="#000" stroke="#000" stroke-width="2.5">ПодшипникРу</text>
<text x="0" y="0" transform="translate(754.5,210.5) rotate(37.5) scale(0.087,0.1)" font-family="Liberation Serif" font-size="230" letter-spacing="28.5" fill="#000" stroke="#000" stroke-width="2.5">ПодшипникРу</text>
<text x="0" y="0" transform="translate(99.5,367.7) rotate(37.5) scale(0.087,0.1)" font-family="Liberation Serif" font-size="230" letter-spacing="28.5" fill="#000" stroke="#000" stroke-width="2.5">ПодшипникРу</text>
<text x="0" y="0" transform="translate(361.5,367.7) rotate(37.5) scale(0.087,0.1)" font-family="Liberation Serif" font-size="230" letter-spacing="28.5" fill="#000" stroke="#000" stroke-width="2.5">ПодшипникРу</text>
<text x="0" y="0" transform="translate(623.5,368.7) rotate(37.5) scale(0.087,0.1)" font-family="Liberation Serif" font-size="230" letter-spacing="28.5" fill="#000" stroke="#000" stroke-width="2.5">ПодшипникРу</text>
</g>
<g opacity="0.999">
<text transform="translate(60.967,253.650) scale(0.11993,0.13663)" font-family="Liberation Sans" font-size="100" fill="#000" stroke="#000" stroke-width="3.898">D</text>
<text transform="translate(91.778,253.903) scale(0.16000,0.14694)" font-family="Liberation Sans" font-size="100" fill="#000" stroke="#000" stroke-width="3.258">d</text>
<text transform="translate(253.715,253.903) scale(0.15111,0.14694)" font-family="Liberation Sans" font-size="100" fill="#000" stroke="#000" stroke-width="3.355">d</text>
<text transform="translate(265.427,253.850) scale(0.09513,0.14680)" font-family="Liberation Sans" font-size="100" fill="#000" stroke="#000" stroke-width="4.133">1</text>
<text transform="translate(302.094,253.550) scale(0.11655,0.13808)" font-family="Liberation Sans" font-size="100" fill="#000" stroke="#000" stroke-width="3.927">D</text>
<text transform="translate(313.927,253.550) scale(0.09513,0.14535)" font-family="Liberation Sans" font-size="100" fill="#000" stroke="#000" stroke-width="4.158">1</text>
<text transform="translate(169.779,432.350) scale(0.11842,0.14680)" font-family="Liberation Sans" font-size="100" fill="#000" stroke="#000" stroke-width="3.770">B</text>
<path d="M251.05,58.70 L251.05,67.40 M251.05,61.70 C251.85,59.50 253.25,59.00 256.40,59.05" fill="none" stroke="#000" stroke-width="1.45"/>
<text transform="translate(260.752,67.291) scale(0.14220,0.15905)" font-family="Liberation Sans" font-size="100" fill="#000" stroke="#000" stroke-width="3.319">s</text>
<path d="M227.65,156.30 L227.65,164.80 M227.65,159.30 C228.45,157.10 229.85,156.60 232.90,156.65" fill="none" stroke="#000" stroke-width="1.45"/>
<text transform="translate(236.713,164.496) scale(0.15596,0.15356)" font-family="Liberation Sans" font-size="100" fill="#000" stroke="#000" stroke-width="3.231">s</text>
<text transform="translate(775.636,134.850) scale(0.11149,0.14244)" font-family="Liberation Sans" font-size="100" fill="#000" stroke="#000" stroke-width="3.938">D</text>
<text transform="translate(786.794,134.917) scale(0.13230,0.13321)" font-family="Liberation Sans" font-size="100" fill="#000" stroke="#000" stroke-width="3.766">a</text>
<text transform="translate(731.434,178.210) scale(0.14667,0.14014)" font-family="Liberation Sans" font-size="100" fill="#000" stroke="#000" stroke-width="3.487">d</text>
<text transform="translate(742.619,178.211) scale(0.12646,0.13869)" font-family="Liberation Sans" font-size="100" fill="#000" stroke="#000" stroke-width="3.772">a</text>
<path d="M653.65,58.10 L653.65,66.50 M653.65,61.10 C654.45,58.90 655.85,58.40 658.20,58.45" fill="none" stroke="#000" stroke-width="1.45"/>
<text transform="translate(662.311,66.202) scale(0.12840,0.14781)" font-family="Liberation Sans" font-size="100" fill="#000" stroke="#000" stroke-width="3.620">a</text>
<path d="M645.15,189.50 L645.15,197.80 M645.15,192.50 C645.95,190.30 647.35,189.80 650.40,189.85" fill="none" stroke="#000" stroke-width="1.45"/>
<text transform="translate(654.094,197.502) scale(0.13230,0.14781)" font-family="Liberation Sans" font-size="100" fill="#000" stroke="#000" stroke-width="3.570">a</text>
</g>
</svg></body></html>
